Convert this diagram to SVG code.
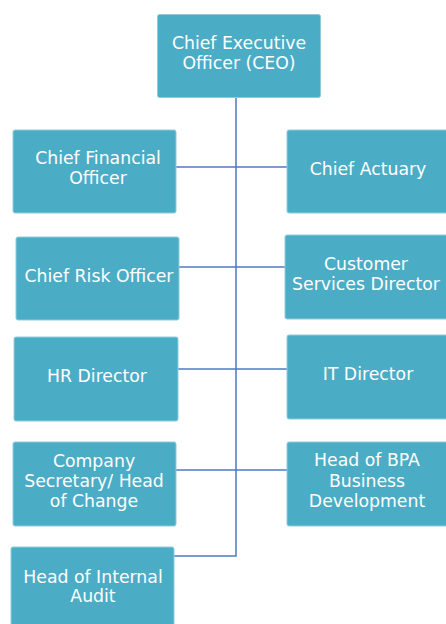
<svg xmlns="http://www.w3.org/2000/svg" width="446" height="624" viewBox="0 0 446 624">
<style>
.box{fill:#4BACC6;stroke:#8FCCDB;stroke-width:1}
.t{fill:#FFFFFF;font-family:"DejaVu Sans","Liberation Sans",sans-serif;font-size:17.3px;text-anchor:middle}
.c{stroke:#4F78C4;stroke-width:1.5;fill:none}
</style>
<rect width="446" height="624" fill="#FFFFFF"/>
<g id="connectors">
<path class="c" d="M236 98 V556 H174"/>
<path class="c" d="M176 167 H287"/>
<path class="c" d="M179 267 H285"/>
<path class="c" d="M178 369 H287"/>
<path class="c" d="M176 470 H287"/>
</g>
<g id="ceo"><rect class="box" x="157.5" y="14.5" width="163" height="83" rx="2"/>
<text class="t" x="239" y="49">Chief Executive</text><text class="t" x="239" y="69">Officer (CEO)</text></g>
<g id="cfo"><rect class="box" x="13" y="130" width="163" height="83" rx="2"/>
<text class="t" x="98" y="164">Chief Financial</text><text class="t" x="98" y="184">Officer</text></g>
<g id="actuary"><rect class="box" x="287" y="130" width="162" height="83" rx="2"/>
<text class="t" x="368" y="175">Chief Actuary</text></g>
<g id="cro"><rect class="box" x="16" y="237" width="163" height="83" rx="2"/>
<text class="t" x="99" y="282">Chief Risk Officer</text></g>
<g id="customer"><rect class="box" x="285" y="235" width="164" height="84" rx="2"/>
<text class="t" x="366" y="270">Customer</text><text class="t" x="366" y="290">Services Director</text></g>
<g id="hr"><rect class="box" x="14" y="337" width="164" height="84" rx="2"/>
<text class="t" x="97" y="382">HR Director</text></g>
<g id="it"><rect class="box" x="287" y="335" width="162" height="84" rx="2"/>
<text class="t" x="368" y="380">IT Director</text></g>
<g id="cosec"><rect class="box" x="13" y="442" width="163" height="84" rx="2"/>
<text class="t" x="94" y="467">Company</text><text class="t" x="94" y="487">Secretary/ Head</text><text class="t" x="94" y="507">of Change</text></g>
<g id="bpa"><rect class="box" x="287" y="442" width="162" height="84" rx="2"/>
<text class="t" x="367" y="466">Head of BPA</text><text class="t" x="367" y="487">Business</text><text class="t" x="367" y="507">Development</text></g>
<g id="audit"><rect class="box" x="11" y="547" width="163" height="84" rx="2"/>
<text class="t" x="93" y="583">Head of Internal</text><text class="t" x="93" y="602">Audit</text></g>
</svg>
